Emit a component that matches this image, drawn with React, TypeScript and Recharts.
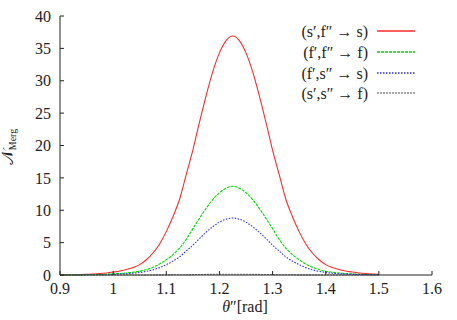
import React from "react";
import { LineChart, Line, XAxis, YAxis, Customized } from "recharts";

const theta = [
  0.9, 0.9125, 0.925, 0.9375, 0.95, 0.9625, 0.975, 0.9875, 1.0, 1.0125, 1.025, 1.0375, 1.05,
  1.0625, 1.075, 1.0875, 1.1, 1.1125, 1.125, 1.1375, 1.15, 1.1625, 1.175, 1.1875, 1.2, 1.2125,
  1.225, 1.2375, 1.25, 1.2625, 1.275, 1.2875, 1.3, 1.3125, 1.325, 1.3375, 1.35, 1.3625, 1.375,
  1.3875, 1.4, 1.4125, 1.425, 1.4375, 1.45, 1.4625, 1.475, 1.4875, 1.5,
];

const sfS = [
  0.015, 0.025, 0.04, 0.063, 0.1, 0.15, 0.22, 0.32, 0.46, 0.62, 0.84, 1.16, 1.6, 2.35, 3.4, 4.8,
  6.7, 9.0, 11.7, 15.5, 19.3, 23.6, 27.7, 31.4, 34.3, 36.2, 36.9, 36.2, 34.3, 31.4, 27.7, 23.6,
  19.3, 15.5, 11.7, 9.0, 6.7, 4.8, 3.4, 2.35, 1.6, 1.16, 0.84, 0.62, 0.46, 0.32, 0.22, 0.15, 0.1,
];

const ffF = [
  0.006, 0.009, 0.015, 0.023, 0.037, 0.056, 0.08, 0.12, 0.17, 0.23, 0.31, 0.43, 0.58, 0.85, 1.2,
  1.7, 2.35, 3.15, 4.15, 5.5, 7.16, 8.75, 10.3, 11.65, 12.7, 13.4, 13.7, 13.4, 12.7, 11.65, 10.3,
  8.75, 7.16, 5.5, 4.15, 3.15, 2.35, 1.7, 1.2, 0.85, 0.58, 0.43, 0.31, 0.23, 0.17, 0.12, 0.08,
  0.056, 0.037,
];

const fsS = [
  0.004, 0.006, 0.01, 0.015, 0.024, 0.036, 0.052, 0.076, 0.11, 0.15, 0.2, 0.28, 0.38, 0.56, 0.81,
  1.14, 1.6, 2.14, 2.8, 3.7, 4.6, 5.62, 6.6, 7.47, 8.16, 8.62, 8.8, 8.62, 8.16, 7.47, 6.6, 5.62,
  4.6, 3.7, 2.8, 2.14, 1.6, 1.14, 0.81, 0.56, 0.38, 0.28, 0.2, 0.15, 0.11, 0.076, 0.052, 0.036,
  0.024,
];

const ssF = [
  0, 0, 0, 0, 0, 0.001, 0.001, 0.001, 0.002, 0.002, 0.003, 0.004, 0.005, 0.008, 0.011, 0.016,
  0.022, 0.029, 0.038, 0.05, 0.063, 0.077, 0.09, 0.1, 0.11, 0.118, 0.12, 0.118, 0.11, 0.1, 0.09,
  0.077, 0.063, 0.05, 0.038, 0.029, 0.022, 0.016, 0.011, 0.008, 0.005, 0.004, 0.003, 0.002,
  0.002, 0.001, 0.001, 0.001, 0,
];

const xTicks = [0.9, 1.0, 1.1, 1.2, 1.3, 1.4, 1.5, 1.6];
const xTickLabels = ["0.9", "1", "1.1", "1.2", "1.3", "1.4", "1.5", "1.6"];
const yTicks = [0, 5, 10, 15, 20, 25, 30, 35, 40];

const seriesNames = ["(s′,f″ → s)", "(f′,f″ → f)", "(f′,s″ → s)", "(s′,s″ → f)"];

const data = theta.map((t, i) => ({
  t,
  a: sfS[i],
  b: ffF[i],
  c: fsS[i],
  d: ssF[i],
}));

const FONT = "Liberation Serif, Times New Roman, DejaVu Serif, serif";
const styles = [
  { key: "a", color: "#ff2a2a", dash: undefined as string | undefined },
  { key: "b", color: "#00d800", dash: "3 1" },
  { key: "c", color: "#2a2aff", dash: "1.5 1.5" },
  { key: "d", color: "#8c8c8c", dash: "2 1" },
];

const legendY = [31, 52, 73, 93];

const LegendBox = () => (
  <g className="custom-legend">
    {seriesNames.map((n, i) => {
      const cy = legendY[i];
      return (
        <g key={n}>
          <text x={368} y={cy + 5.5} textAnchor="end" fontFamily={FONT} fontSize={16} fill="#222">
            {n}
          </text>
          <path
            d={`M377,${cy}L415,${cy}`}
            fill="none"
            stroke={styles[i].color}
            strokeWidth={1.4}
            strokeDasharray={styles[i].dash}
          />
        </g>
      );
    })}
  </g>
);

const tickStyle = { fontFamily: FONT, fontSize: 16, fill: "#222" };

export default function App() {
  return (
    <div style={{ position: "absolute", left: 0, top: 0, width: 457, height: 320, background: "#fff", fontFamily: FONT }}>
      <LineChart
        width={457}
        height={320}
        data={data}
        margin={{ top: 16, right: 25, left: 0, bottom: 0 }}
        style={{ fontFamily: FONT }}
      >
        <XAxis
          dataKey="t"
          type="number"
          domain={[0.9, 1.6]}
          ticks={xTicks}
          tickFormatter={(v: number) => xTickLabels[xTicks.findIndex((x) => Math.abs(x - v) < 1e-6)] ?? String(v)}
          height={45}
          tickSize={-4}
          tickMargin={12}
          stroke="#222"
          tick={tickStyle}
          interval={0}
          allowDataOverflow
          label={{
            content: () => (
              <text x={245} y={312} textAnchor="middle" fontFamily={FONT} fontSize={16} fill="#222">
                <tspan fontStyle="italic">θ</tspan>
                <tspan>″[rad]</tspan>
              </text>
            ),
          }}
        />
        <XAxis
          xAxisId="top"
          orientation="top"
          dataKey="t"
          type="number"
          domain={[0.9, 1.6]}
          ticks={xTicks}
          height={0}
          tickSize={-4}
          tick={false}
          stroke="#222"
          interval={0}
        />
        <YAxis
          type="number"
          domain={[0, 40]}
          ticks={yTicks}
          width={60}
          tickSize={-4}
          tickMargin={13}
          stroke="#222"
          tick={tickStyle}
          interval={0}
          label={{
            content: () => (
              <text
                x={13}
                y={147}
                transform="rotate(-90 13 147)"
                textAnchor="middle"
                fontFamily={FONT}
                fontSize={16}
                fill="#222"
              >
                <tspan>𝒩</tspan>
                <tspan fontSize={10} dy={3}>Merg</tspan>
              </text>
            ),
          }}
        />
        <YAxis
          yAxisId="right"
          orientation="right"
          type="number"
          domain={[0, 40]}
          ticks={yTicks}
          width={0}
          tickSize={-4}
          tick={false}
          stroke="#222"
          interval={0}
        />
        {styles.map((s) => (
          <Line
            key={s.key}
            dataKey={s.key}
            type="monotone"
            stroke={s.color}
            strokeWidth={1.1}
            strokeDasharray={s.dash}
            dot={false}
            isAnimationActive={false}
          />
        ))}
        <Customized component={LegendBox} />
      </LineChart>
    </div>
  );
}
